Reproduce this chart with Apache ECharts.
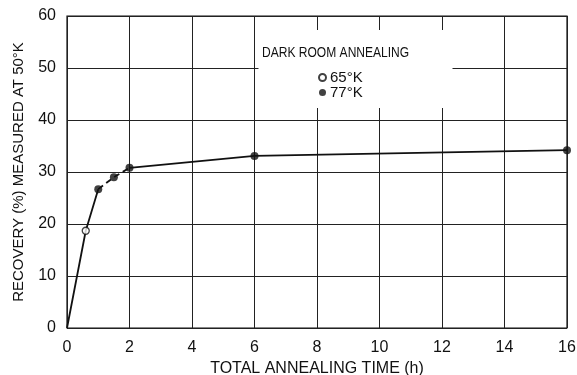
<!DOCTYPE html>
<html>
<head>
<meta charset="utf-8">
<script src="https://cdn.jsdelivr.net/npm/echarts@6/dist/echarts.min.js"></script>
<style>html,body{margin:0;padding:0;background:#fff}#c{width:577px;height:375px}</style>
</head>
<body>
<div id="c"></div>
<script>
// Data
const xTicks = [0, 2, 4, 6, 8, 10, 12, 14, 16];
const yTicks = [0, 10, 20, 30, 40, 50, 60];
// curve segments: [time (h), recovery (%)]
const curveSolidStart = [[0, 0], [0.6, 18.7], [1.0, 26.7]];
const curveDashed = [[1.0, 26.7], [1.5, 29.0], [2.0, 30.8]];
const curveSolidEnd = [[2.0, 30.8], [6.0, 33.1], [16.0, 34.2]];
// measured points
const points65K = [[0.6, 18.7]];
const points77K = [[1.0, 26.7], [1.5, 29.0], [2.0, 30.8], [6.0, 33.1], [16.0, 34.2]];
const legendTitle = 'DARK ROOM ANNEALING';
const xName = 'TOTAL ANNEALING TIME (h)';
const yName = 'RECOVERY (%) MEASURED AT 50°K';

const FONT = 'Liberation Sans';
const chart = echarts.init(document.getElementById('c'), null, {renderer: 'canvas'});
const lineBase = {type: 'line', showSymbol: false, symbol: 'none', silent: true,
  lineStyle: {color: '#111', width: 1.8}, z: 3};
chart.setOption({
  animation: false,
  backgroundColor: '#fff',
  textStyle: {fontFamily: FONT, color: '#111'},
  grid: {left: 67, right: 10, top: 16, bottom: 47, show: true, borderColor: '#111', borderWidth: 1.2,
    containLabel: false, outerBoundsMode: 'none'},
  xAxis: {
    type: 'value', min: 0, max: 16, interval: 2,
    name: xName, nameLocation: 'middle', nameGap: 30,
    nameTextStyle: {fontSize: 16, color: '#111', fontFamily: FONT},
    axisLine: {show: false}, axisTick: {show: false},
    axisLabel: {fontSize: 16, color: '#111', margin: 12,
      formatter: v => xTicks.includes(v) ? String(v) : ''},
    splitLine: {show: true, lineStyle: {color: '#222', width: 1}}
  },
  yAxis: {
    type: 'value', min: 0, max: 60, interval: 10,
    name: yName, nameLocation: 'middle', nameGap: 41, nameRotate: 90,
    nameTextStyle: {fontSize: 15, color: '#111', fontFamily: FONT},
    axisLine: {show: false}, axisTick: {show: false},
    axisLabel: {fontSize: 16, color: '#111', margin: 11,
      formatter: v => yTicks.includes(v) ? String(v) : ''},
    splitLine: {show: true, lineStyle: {color: '#222', width: 1}}
  },
  legend: {
    orient: 'vertical', left: 314, top: 68, itemGap: 0, padding: [2, 4, 2, 4],
    itemWidth: 7, itemHeight: 7, icon: 'circle',
    textStyle: {fontSize: 15, color: '#111', fontFamily: FONT, padding: [0, 0, 0, -1]},
    data: ['65°K', '77°K'], z: 6
  },
  graphic: [
    {type: 'rect', shape: {x: 258.5, y: 30, width: 194, height: 78},
      style: {fill: '#fff'}, z: 1, silent: true},
    {type: 'text', x: 262, y: 46, scaleX: 0.86, z: 6,
      style: {text: legendTitle, fontSize: 14, fontFamily: FONT, fill: '#111'}}
  ],
  series: [
    Object.assign({}, lineBase, {name: 'seg1', data: curveSolidStart}),
    Object.assign({}, lineBase, {name: 'seg2', data: curveDashed,
      lineStyle: {color: '#111', width: 1.8, type: [6, 4]}}),
    Object.assign({}, lineBase, {name: 'seg3', data: curveSolidEnd}),
    {type: 'scatter', name: '65°K', data: points65K, symbol: 'circle', symbolSize: 7, z: 5,
      itemStyle: {color: '#fff', borderColor: '#111', borderWidth: 1.3}},
    {type: 'scatter', name: '77°K', data: points77K, symbol: 'circle', symbolSize: 8, z: 5,
      itemStyle: {color: '#111'}}
  ]
});
</script>
</body>
</html>
